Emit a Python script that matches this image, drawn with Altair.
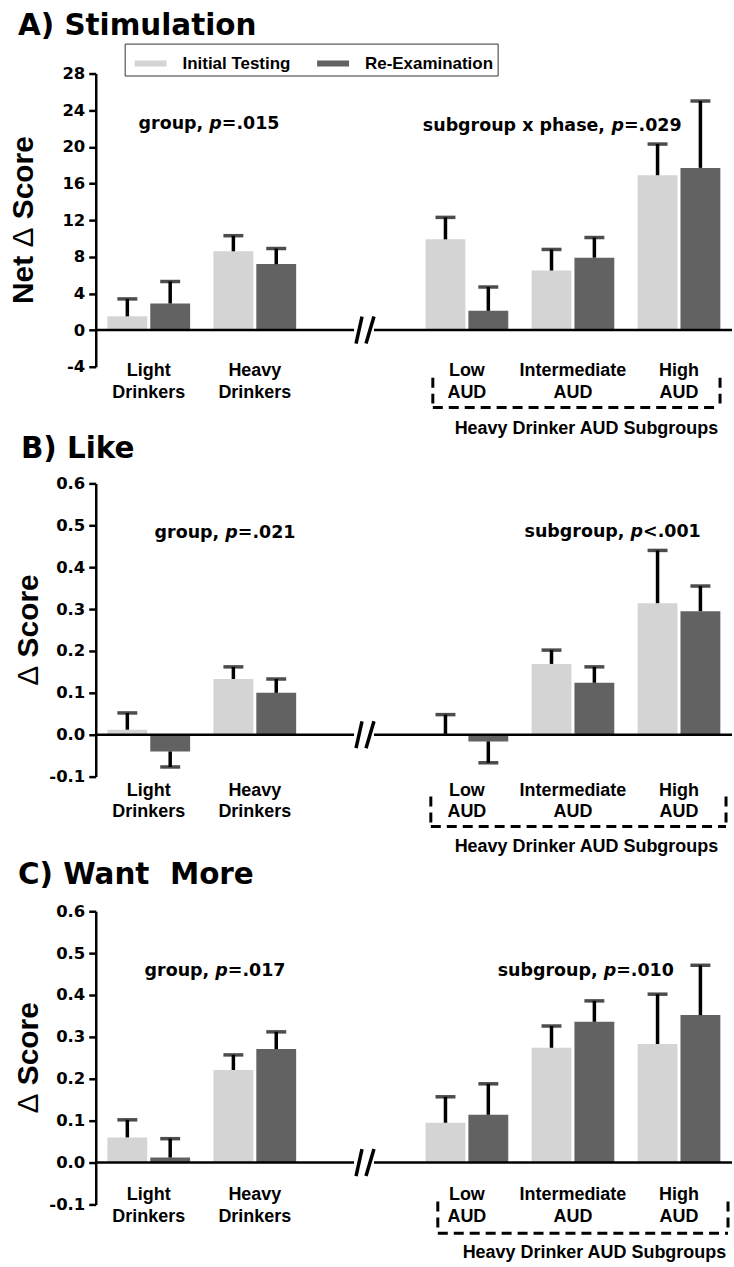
import altair as alt
import pandas as pd

# ---------------- data ----------------
categories = ["Light Drinkers", "Heavy Drinkers", "Low AUD", "Intermediate AUD", "High AUD"]
cat_labels = ["Light\nDrinkers", "Heavy\nDrinkers", "Low\nAUD", "Intermediate\nAUD", "High\nAUD"]
phases = ["Initial Testing", "Re-Examination"]
slots = ["Light Drinkers", "Heavy Drinkers", "", "Low AUD", "Intermediate AUD", "High AUD"]

stim_initial = [1.5, 8.6, 9.9, 6.5, 16.9]
stim_initial_sem = [1.9, 1.7, 2.4, 2.3, 3.4]
stim_re = [2.9, 7.2, 2.1, 7.9, 17.7]
stim_re_sem = [2.4, 1.7, 2.6, 2.2, 7.3]

like_initial = [0.012, 0.133, 0.002, 0.169, 0.314]
like_initial_sem = [0.040, 0.029, 0.046, 0.033, 0.126]
like_re = [-0.040, 0.100, -0.016, 0.124, 0.295]
like_re_sem = [0.037, 0.033, 0.051, 0.038, 0.060]

want_initial = [0.060, 0.221, 0.095, 0.274, 0.283]
want_initial_sem = [0.042, 0.036, 0.062, 0.052, 0.119]
want_re = [0.012, 0.271, 0.114, 0.336, 0.352]
want_re_sem = [0.045, 0.041, 0.074, 0.050, 0.119]

stim_ticks = [-4, 0, 4, 8, 12, 16, 20, 24, 28]
score_ticks = [-0.1, 0.0, 0.1, 0.2, 0.3, 0.4, 0.5, 0.6]

titles = ["A) Stimulation", "B) Like", "C) Want\u00a0 More"]
ytitle_words = [["Net", "Δ", "Score"], ["Δ", "Score"], ["Δ", "Score"]]
note_left = [("group, ", "=.015"), ("group, ", "=.021"), ("group, ", "=.017")]
note_right = [("subgroup x phase, ", "=.029"), ("subgroup, ", "<.001"), ("subgroup, ", "=.010")]
subgroup_caption = "Heavy Drinker AUD Subgroups"

# ---------------- styling / layout ----------------
LIGHT = "#d4d4d4"
DARK = "#626262"
W = 638
H = 294
LAB = "Liberation Sans"
DJ = "DejaVu Sans"
NOTE_FS = 17.5
YT_FS = 30

DJW = {' ': 0.348, ',': 0.380, '.': 0.380, '=': 0.838, '<': 0.838, 'g': 0.716, 'r': 0.493,
       'o': 0.687, 'u': 0.712, 'p': 0.716, 's': 0.595, 'b': 0.716, 'x': 0.663, 'h': 0.712,
       'a': 0.675, 'e': 0.678}
for d in "0123456789":
    DJW[d] = 0.696
# Liberation Sans Bold advances (em); delta drawn in regular weight
LBW = {'N': 0.722, 'e': 0.556, 't': 0.333, ' ': 0.278, 'S': 0.667, 'c': 0.556, 'o': 0.611,
       'r': 0.389, 'Δ': 0.668}


def tw(s):
    return sum(DJW.get(c, 0.65) for c in s) * NOTE_FS


def lw(s):
    return sum(LBW.get(c, 0.6) for c in s) * YT_FS


layout = [
    dict(extra=0, title_xy=(-78, -39), ytitle_x=-72, notes=[(43, 56), (328, 58)],
         lab_y=303, box=(338, 626, 305, 335), cap_xy=(492, 361)),
    dict(extra=18, title_xy=(-75, -25), ytitle_x=-67, notes=[(59, 55), (430, 54)],
         lab_y=313, box=(336, 632, 314, 344), cap_xy=(492, 370)),
    dict(extra=0, title_xy=(-78, -27), ytitle_x=-67, notes=[(49, 65), (403, 65)],
         lab_y=290, box=(343, 634, 291, 323), cap_xy=(500, 348)),
]


def panel(i, init, init_sem, re, re_sem, ydom, yticks, yfmt):
    L = layout[i]
    rows = []
    for ph, vals, sems in [(phases[0], init, init_sem), (phases[1], re, re_sem)]:
        for c, v, s in zip(categories, vals, sems):
            rows.append(dict(cat=c, phase=ph, value=v, end=v + (s if v >= 0 else -s)))
    df = pd.DataFrame(rows)
    lab = pd.DataFrame({"cat": categories, "label": cat_labels})
    one = pd.DataFrame({"k": [0]})

    xenc = alt.X("cat:N", scale=alt.Scale(domain=slots, paddingInner=0.22, paddingOuter=0.11), axis=None)
    xo = alt.XOffset("phase:N", scale=alt.Scale(domain=phases, paddingInner=0.07))
    yenc = alt.Y("value:Q",
                 scale=alt.Scale(domain=ydom, range=[H, 0], nice=False, zero=False),
                 axis=alt.Axis(values=yticks, tickCount=len(yticks), format=yfmt, grid=False,
                               domainColor="black", domainWidth=2.5, tickColor="black",
                               tickWidth=2.5, tickSize=7,
                               labelExpr="replace(datum.label, '\u2212', '-')",
                               labelFont=DJ, labelFontSize=16.5, labelFontWeight="bold",
                               labelColor="black", labelPadding=4, labelFlush=False,
                               labelOverlap=False),
                 title=None)
    if i == 0:
        leg = alt.Legend(orient="none", legendX=29, legendY=-30, direction="horizontal", title=None,
                         symbolType="M-1,-0.19L1,-0.19L1,0.19L-1,0.19Z", symbolSize=1024,
                         symbolStrokeWidth=0, labelFont=LAB, labelFontSize=17,
                         labelFontWeight="bold", labelColor="black", labelOffset=16,
                         columnPadding=20, padding=4, symbolOffset=6, strokeColor="#333333")
        color = alt.Color("phase:N", scale=alt.Scale(domain=phases, range=[LIGHT, DARK]), legend=leg)
    else:
        color = alt.Color("phase:N", scale=alt.Scale(domain=phases, range=[LIGHT, DARK]), legend=None)

    bars = alt.Chart(df).mark_bar().encode(x=xenc, xOffset=xo, y=yenc, color=color)
    err = alt.Chart(df).mark_rule(color="black", strokeWidth=3.5).encode(
        x=xenc, xOffset=xo, y="value:Q", y2="end:Q")
    caps = alt.Chart(df).mark_tick(color="black", thickness=3.5, size=20).encode(
        x=xenc, xOffset=xo, y="end:Q")

    zero1 = alt.Chart(one).mark_rule(color="black", strokeWidth=2.5).encode(
        x=alt.value(0), x2=alt.value(259), y=alt.datum(0))
    zero2 = alt.Chart(one).mark_rule(color="black", strokeWidth=2.5).encode(
        x=alt.value(279), x2=alt.value(W), y=alt.datum(0))
    upp = (ydom[1] - ydom[0]) / H
    brk1 = alt.Chart(one).mark_rule(color="black", strokeWidth=3.5).encode(
        x=alt.value(261), x2=alt.value(267), y=alt.datum(-13.5 * upp), y2=alt.datum(13.5 * upp))
    brk2 = alt.Chart(one).mark_rule(color="black", strokeWidth=3.5).encode(
        x=alt.value(271), x2=alt.value(279), y=alt.datum(-13.5 * upp), y2=alt.datum(13.5 * upp))

    bx0, bx1, by0, by1 = L["box"]
    dash = dict(color="black", strokeWidth=3, strokeDash=[10, 6])
    boxl = alt.Chart(one).mark_rule(**dash).encode(x=alt.value(bx0), y=alt.value(by0), y2=alt.value(by1))
    boxr = alt.Chart(one).mark_rule(**dash).encode(x=alt.value(bx1), y=alt.value(by0), y2=alt.value(by1))
    boxb = alt.Chart(one).mark_rule(**dash).encode(x=alt.value(bx0), x2=alt.value(bx1), y=alt.value(by1))

    labels = alt.Chart(lab).mark_text(font=LAB, fontSize=18, fontWeight="bold", lineBreak="\n",
                                      lineHeight=22, baseline="alphabetic", align="center",
                                      color="black").encode(
        x=xenc, y=alt.value(L["lab_y"]), text="label:N")
    caption = alt.Chart(one).mark_text(font=LAB, fontSize=18, fontWeight="bold", baseline="alphabetic",
                                       align="center", color="black").encode(
        x=alt.value(L["cap_xy"][0]), y=alt.value(L["cap_xy"][1]), text=alt.value(subgroup_caption))

    title = alt.Chart(one).mark_text(font=DJ, fontSize=29.5, fontWeight="bold", baseline="alphabetic",
                                     align="left", color="black").encode(
        x=alt.value(L["title_xy"][0]), y=alt.value(L["title_xy"][1]), text=alt.value(titles[i]))

    # rotated y title in pieces (bottom to top): bold words, regular-weight delta
    words = ytitle_words[i]
    sp = LBW[' '] * YT_FS
    total = sum(lw(wd) for wd in words) + sp * (len(words) - 1)
    pos = H / 2 + total / 2
    ypieces = []
    for wd in words:
        wt = "normal" if wd == "Δ" else "bold"
        ypieces.append(alt.Chart(one).mark_text(font=LAB, fontSize=YT_FS, fontWeight=wt,
                                                baseline="middle", align="left", angle=270,
                                                color="black").encode(
            x=alt.value(L["ytitle_x"]), y=alt.value(pos), text=alt.value(wd)))
        pos -= lw(wd) + sp

    notes = []
    for (pre_n, post), (nx, ny) in zip([note_left[i], note_right[i]], L["notes"]):
        xp = nx + tw(pre_n)
        xq = xp + DJW['p'] * NOTE_FS
        for txt, xx, st in [(pre_n, nx, "normal"), ("p", xp, "italic"), (post, xq, "normal")]:
            notes.append(alt.Chart(one).mark_text(font=DJ, fontSize=NOTE_FS, fontWeight="bold",
                                                  fontStyle=st, baseline="alphabetic", align="left",
                                                  color="black").encode(
                x=alt.value(xx), y=alt.value(ny), text=alt.value(txt)))

    layers = [bars, err, caps, zero1, zero2, brk1, brk2, boxl, boxr, boxb, labels, caption, title] + ypieces + notes
    if i == 0:
        anchor = alt.Chart(one).mark_rule(opacity=0).encode(
            x=alt.value(-96), x2=alt.value(-95), y=alt.value(-72), y2=alt.value(-71))
        layers.append(anchor)
    return alt.layer(*layers).properties(width=W, height=H + L["extra"])


pA = panel(0, stim_initial, stim_initial_sem, stim_re, stim_re_sem, [-4, 28], stim_ticks, "d")
pB = panel(1, like_initial, like_initial_sem, like_re, like_re_sem, [-0.1, 0.6], score_ticks, ".1f")
pC = panel(2, want_initial, want_initial_sem, want_re, want_re_sem, [-0.1, 0.6], score_ticks, ".1f")

chart = alt.vconcat(pA, pB, pC, spacing=117, bounds="flush").resolve_scale(
    y="independent").resolve_legend(color="independent").configure_view(stroke=None).properties(
    padding=0, background="white")

chart.save("out.html", embed_options={"renderer": "svg", "actions": False})
